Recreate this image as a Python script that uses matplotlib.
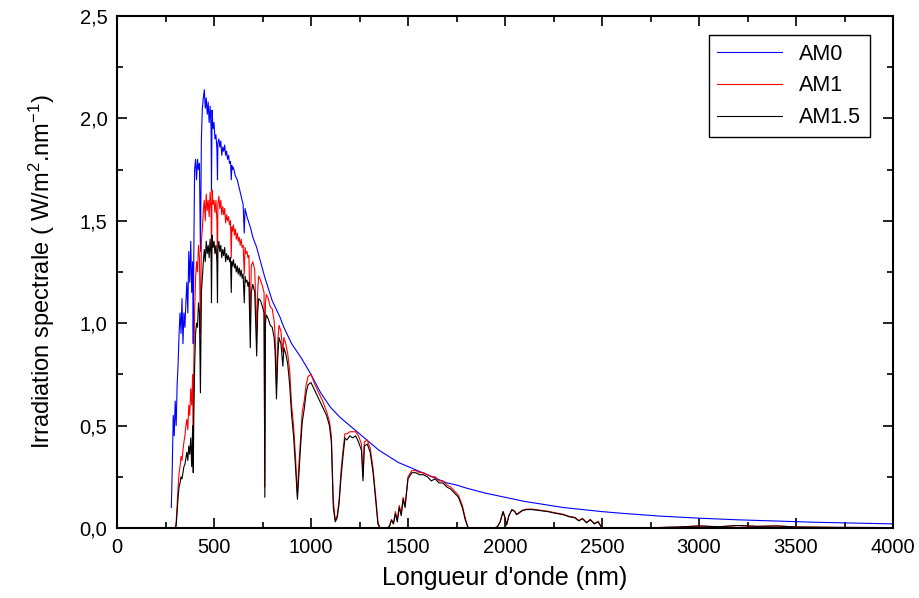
import matplotlib.pyplot as plt
from matplotlib.ticker import MultipleLocator, FuncFormatter

# AM0 (extraterrestrial) spectrum
wl_am0 = [
    280, 285, 290, 295, 300, 305, 310, 315, 320, 325,
    330, 335, 340, 345, 350, 355, 360, 365, 370, 375,
    380, 385, 390, 393, 396, 400, 405, 410, 415, 420,
    425, 430, 435, 440, 445, 450, 455, 460, 465, 470,
    475, 480, 485, 487, 490, 495, 500, 505, 510, 515,
    518, 520, 525, 530, 535, 540, 545, 550, 555, 560,
    565, 570, 575, 580, 585, 589, 592, 595, 600, 610,
    620, 630, 640, 650, 656, 660, 670, 680, 690, 700,
    720, 740, 760, 780, 800, 820, 840, 860, 880, 900,
    950, 1000, 1050, 1100, 1150, 1200, 1250, 1300, 1350, 1400,
    1450, 1500, 1550, 1600, 1650, 1700, 1750, 1800, 1900, 2000,
    2100, 2200, 2300, 2400, 2500, 2600, 2800, 3000, 3200, 3400,
    3600, 3800, 4000,
]
am0 = [
    0.1, 0.3, 0.55, 0.45, 0.62, 0.5, 0.7, 0.8, 0.95, 1.05,
    0.95, 1.12, 0.9, 1.05, 0.98, 1.1, 1.2, 1.05, 1.35, 1.2,
    1.4, 1.15, 1.3, 0.9, 1.35, 1.75, 1.8, 1.7, 1.8, 1.75,
    1.78, 1.35, 1.9, 2.05, 2.1, 2.14, 2.05, 2.1, 2.02, 2.08,
    1.98, 2.06, 1.95, 1.65, 2.04, 1.95, 1.98, 1.9, 1.92, 1.85,
    1.7, 1.88, 1.9, 1.86, 1.89, 1.82, 1.86, 1.84, 1.87, 1.82,
    1.84, 1.8, 1.82, 1.78, 1.79, 1.7, 1.77, 1.75, 1.76, 1.72,
    1.7, 1.66, 1.62, 1.58, 1.44, 1.56, 1.52, 1.49, 1.46, 1.42,
    1.37, 1.3, 1.23, 1.17, 1.11, 1.07, 1.03, 0.98, 0.94, 0.9,
    0.83, 0.75, 0.66, 0.59, 0.54, 0.5, 0.46, 0.42, 0.38, 0.35,
    0.32, 0.3, 0.28, 0.26, 0.24, 0.22, 0.21, 0.195, 0.17, 0.15,
    0.13, 0.115, 0.1, 0.09, 0.08, 0.072, 0.058, 0.048, 0.04, 0.034,
    0.028, 0.024, 0.02,
]

# ground level spectra (AM1, AM1.5) share one wavelength grid
wl_ground = [
    280, 295, 300, 305, 310, 315, 320, 325, 330, 335,
    340, 345, 350, 355, 360, 365, 370, 375, 380, 385,
    390, 393, 396, 400, 405, 410, 415, 420, 425, 430,
    435, 440, 445, 450, 455, 460, 465, 470, 475, 480,
    485, 487, 490, 495, 500, 505, 510, 515, 518, 520,
    525, 530, 535, 540, 545, 550, 555, 560, 565, 570,
    575, 580, 585, 589, 592, 595, 600, 605, 610, 615,
    620, 625, 630, 635, 640, 645, 650, 656, 660, 665,
    670, 675, 680, 687, 692, 700, 710, 720, 725, 730,
    740, 750, 758, 762, 765, 770, 780, 790, 800, 810,
    815, 822, 828, 835, 845, 855, 860, 870, 880, 890,
    900, 910, 920, 930, 937, 945, 955, 965, 975, 985,
    1000, 1020, 1040, 1060, 1080, 1095, 1105, 1115, 1125, 1135,
    1145, 1155, 1165, 1175, 1185, 1200, 1215, 1230, 1245, 1260,
    1268, 1275, 1290, 1305, 1320, 1335, 1345, 1355, 1370, 1385,
    1395, 1405, 1415, 1425, 1435, 1445, 1455, 1465, 1475, 1485,
    1500, 1520, 1540, 1560, 1580, 1600, 1620, 1640, 1660, 1680,
    1700, 1720, 1740, 1760, 1780, 1795, 1810, 1850, 1900, 1940,
    1960, 1975, 1990, 2000, 2008, 2020, 2036, 2050, 2060, 2075,
    2090, 2110, 2140, 2180, 2220, 2260, 2300, 2330, 2360, 2380,
    2400, 2420, 2440, 2460, 2480, 2500, 2550, 2700, 2900, 3000,
    3100, 3200, 3300, 3400, 3500, 3700, 4000,
]
am1 = [
    0, 0, 0, 0.03, 0.12, 0.2, 0.27, 0.3, 0.35, 0.33,
    0.38, 0.42, 0.45, 0.5, 0.53, 0.48, 0.6, 0.55, 0.68, 0.6,
    0.75, 0.45, 0.8, 1.05, 1.22, 1.3, 1.25, 1.38, 1.32, 0.95,
    1.4, 1.46, 1.55, 1.6, 1.5, 1.63, 1.55, 1.6, 1.52, 1.64,
    1.55, 1.3, 1.65, 1.58, 1.6, 1.54, 1.6, 1.5, 1.3, 1.58,
    1.62, 1.56, 1.6, 1.53, 1.57, 1.53, 1.56, 1.49, 1.53, 1.5,
    1.52, 1.48, 1.5, 1.32, 1.47, 1.45, 1.48, 1.43, 1.46, 1.41,
    1.44, 1.4, 1.42, 1.38, 1.41, 1.37, 1.38, 1.24, 1.37, 1.34,
    1.35, 1.32, 1.33, 1.0, 1.28, 1.3, 1.26, 0.95, 1.15, 1.23,
    1.21, 1.18, 1.15, 0.2, 1.1, 1.14, 1.12, 1.08, 1.07, 1.01,
    0.94, 0.7, 0.9, 0.99, 0.96, 0.86, 0.93, 0.9, 0.85, 0.77,
    0.6, 0.5, 0.35, 0.16, 0.3, 0.42, 0.57, 0.62, 0.7, 0.74,
    0.75, 0.7, 0.66, 0.62, 0.57, 0.52, 0.45, 0.13, 0.04, 0.06,
    0.14, 0.28, 0.38, 0.46, 0.46, 0.47, 0.47, 0.47, 0.45, 0.41,
    0.25, 0.42, 0.43, 0.39, 0.29, 0.14, 0.03, 0, 0, 0,
    0, 0.01, 0.04, 0.02, 0.08, 0.04, 0.11, 0.07, 0.15, 0.11,
    0.25, 0.28, 0.28, 0.27, 0.27, 0.26, 0.25, 0.25, 0.23, 0.23,
    0.21, 0.2, 0.18, 0.16, 0.11, 0.05, 0, 0, 0, 0,
    0.005, 0.03, 0.08, 0.05, 0.015, 0.06, 0.09, 0.082, 0.067, 0.077,
    0.087, 0.092, 0.092, 0.087, 0.082, 0.074, 0.067, 0.057, 0.052, 0.037,
    0.047, 0.027, 0.042, 0.022, 0.032, 0, 0, 0, 0.005, 0.01,
    0.006, 0.012, 0.008, 0.01, 0.005, 0.003, 0.002,
]
am15 = [
    0, 0, 0, 0.01, 0.08, 0.15, 0.2, 0.22, 0.25, 0.24,
    0.27, 0.3, 0.31, 0.34, 0.37, 0.33, 0.4, 0.36, 0.44, 0.3,
    0.5, 0.27, 0.55, 0.78, 0.95, 1.0, 0.98, 1.1, 1.05, 0.66,
    1.15, 1.22, 1.3, 1.36, 1.3, 1.4, 1.34, 1.38, 1.32, 1.41,
    1.33, 1.1, 1.43, 1.37, 1.4, 1.34, 1.38, 1.3, 1.1, 1.36,
    1.4, 1.35, 1.38, 1.32, 1.36, 1.33, 1.37, 1.3, 1.34, 1.31,
    1.33, 1.3, 1.32, 1.15, 1.3, 1.28, 1.31, 1.27, 1.29, 1.25,
    1.28, 1.24, 1.27, 1.23, 1.26, 1.22, 1.24, 1.1, 1.23, 1.2,
    1.21, 1.18, 1.2, 0.88, 1.15, 1.19, 1.15, 0.84, 1.05, 1.12,
    1.11, 1.08, 1.05, 0.15, 1.0, 1.04, 1.02, 0.99, 0.98, 0.93,
    0.86, 0.63, 0.82, 0.93, 0.9, 0.79, 0.88, 0.85, 0.8, 0.7,
    0.55, 0.45, 0.3, 0.14, 0.25, 0.38, 0.52, 0.58, 0.66, 0.7,
    0.71, 0.67, 0.63, 0.59, 0.55, 0.5, 0.42, 0.1, 0.03, 0.05,
    0.12, 0.25, 0.35, 0.44, 0.43, 0.45, 0.44, 0.45, 0.42, 0.38,
    0.23, 0.4, 0.41, 0.37, 0.27, 0.12, 0.02, 0, 0, 0,
    0, 0.01, 0.04, 0.02, 0.07, 0.03, 0.1, 0.06, 0.14, 0.1,
    0.24, 0.27, 0.27, 0.26, 0.26, 0.25, 0.23, 0.24, 0.22, 0.22,
    0.2, 0.19, 0.17, 0.15, 0.1, 0.04, 0, 0, 0, 0,
    0.005, 0.03, 0.08, 0.05, 0.015, 0.06, 0.09, 0.08, 0.065, 0.075,
    0.085, 0.09, 0.09, 0.085, 0.08, 0.072, 0.065, 0.055, 0.05, 0.035,
    0.045, 0.025, 0.04, 0.02, 0.03, 0, 0, 0, 0.005, 0.01,
    0.006, 0.012, 0.008, 0.01, 0.005, 0.003, 0.002,
]

assert len(wl_am0) == len(am0)
assert len(wl_ground) == len(am1) == len(am15)

plt.rcParams["font.family"] = ["Liberation Sans", "DejaVu Sans"]
plt.rcParams["mathtext.fontset"] = "custom"
plt.rcParams["mathtext.rm"] = "Liberation Sans"
plt.rcParams["mathtext.it"] = "Liberation Sans:italic"
plt.rcParams["mathtext.bf"] = "Liberation Sans:bold"

fig = plt.figure(figsize=(9.19, 5.98), dpi=100)
ax = fig.add_axes([117 / 919, 1 - 528 / 598, 776 / 919, 512 / 598])

ax.plot(wl_am0, am0, color="#0000ff", lw=0.8, label="AM0")
ax.plot(wl_ground, am1, color="#ff0000", lw=0.8, label="AM1")
ax.plot(wl_ground, am15, color="black", lw=0.8, label="AM1.5")

ax.set_xlim(0, 4000)
ax.set_ylim(0, 2.5)
ax.xaxis.set_major_locator(MultipleLocator(500))
ax.xaxis.set_minor_locator(MultipleLocator(250))
ax.yaxis.set_major_locator(MultipleLocator(0.5))
ax.yaxis.set_minor_locator(MultipleLocator(0.25))
ax.yaxis.set_major_formatter(FuncFormatter(lambda v, p: f"{v:.1f}".replace(".", ",")))

ax.tick_params(which="both", direction="in", top=True, right=True, width=1.2)
ax.tick_params(which="major", length=7, labelsize=14.5, pad=7)
ax.tick_params(which="minor", length=4)
for sp in ax.spines.values():
    sp.set_linewidth(1.5)

ax.set_xlabel("Longueur d'onde (nm)", fontsize=18, labelpad=7)
ax.set_ylabel(r"Irradiation spectrale ( W/m$^{2}$.nm$^{-1}$)", fontsize=17, labelpad=16)

leg = ax.legend(loc="upper right", bbox_to_anchor=(0.970, 0.963), borderaxespad=0,
                fancybox=False, edgecolor="black", fontsize=15.5, handlelength=3.0,
                framealpha=1)
leg.get_frame().set_linewidth(1.0)

fig.savefig("out.png", dpi=100)
